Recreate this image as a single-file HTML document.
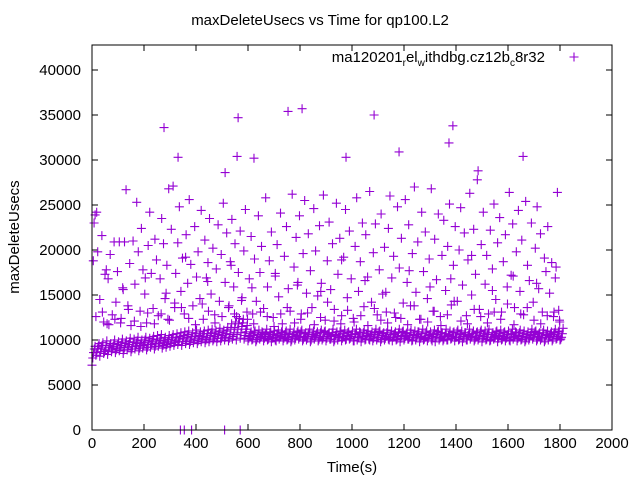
<!DOCTYPE html>
<html><head><meta charset="utf-8"><style>
body{margin:0;background:#fff}
svg{display:block;font-family:"Liberation Sans",Arial,sans-serif}
</style></head><body>
<svg id="chart" width="640" height="480" viewBox="0 0 640 480" xmlns="http://www.w3.org/2000/svg">
<rect width="640" height="480" fill="#fff"/>
<text x="320" y="25" text-anchor="middle" font-size="15">maxDeleteUsecs vs Time for qp100.L2</text>
<text transform="translate(19,237) rotate(-90)" text-anchor="middle" font-size="15">maxDeleteUsecs</text>
<text x="352" y="472" text-anchor="middle" font-size="15">Time(s)</text>
<g id="axes"></g>
<g id="marks" stroke="#9400d3" stroke-width="1.1" fill="none"></g>
<g>
<text x="545" y="62" text-anchor="end" font-size="15">ma120201<tspan font-size="10" dy="4">r</tspan><tspan dy="-4">el</tspan><tspan font-size="10" dy="4">w</tspan><tspan dy="-4">ithdbg.cz12b</tspan><tspan font-size="10" dy="4">c</tspan><tspan dy="-4">8r32</tspan></text>
<path d="M569.5 57h9M574 52.5v9" stroke="#9400d3" stroke-width="1.1"/>
</g>
<rect x="92" y="45" width="520" height="385" fill="none" stroke="#000" stroke-width="1"/>
</svg>
<script>
const xTicks=[0,200,400,600,800,1000,1200,1400,1600,1800,2000];
const yTicks=[0,5000,10000,15000,20000,25000,30000,35000,40000];
const bandTimes=[0,15,30,45,60,75,90,105,120,135,150,165,180,195,210,225,240,255,270,285,300,315,330,345,360,375,390,405,420,435,450,465,480,495,510,525,540,555,570,585,600,615,630,645,660,675,690,705,720,735,750,765,780,795,810,825,840,855,870,885,900,915,930,945,960,975,990,1005,1020,1035,1050,1065,1080,1095,1110,1125,1140,1155,1170,1185,1200,1215,1230,1245,1260,1275,1290,1305,1320,1335,1350,1365,1380,1395,1410,1425,1440,1455,1470,1485,1500,1515,1530,1545,1560,1575,1590,1605,1620,1635,1650,1665,1680,1695,1710,1725,1740,1755,1770,1785,1800];
const bandLow=[7200,8300,8200,8500,8400,8700,8600,8800,8500,8900,8700,9000,8800,9100,8900,9200,9000,9300,9100,9200,9300,9400,9500,9400,9600,9500,9700,9600,9800,9700,9800,9900,9800,9900,10000,9900,10100,10000,10200,10100,9900,10000,9800,10100,9900,10000,9800,10000,10100,9900,10000,9800,10000,10100,9900,10000,9800,10100,9900,10000,9900,10100,9800,10000,9900,10000,10100,9900,10000,9800,10000,10100,9900,10000,9800,10000,10100,9900,10000,9800,10000,10100,9900,10000,9800,10000,9900,10100,9800,10000,9900,10000,10100,9900,10000,9800,10000,10100,9900,10000,9800,10000,9900,10100,9800,10000,9900,10000,10100,9900,10000,9800,10000,10100,9900,10000,9800,10000,9900,10100,10000];
const bandQ1=[8000,8600,8700,8700,8800,9000,8900,9100,8900,9200,9000,9300,9100,9400,9200,9500,9300,9600,9400,9500,9600,9700,9800,9800,9900,9800,10000,9900,10100,10000,10100,10100,10200,10200,10300,10200,10400,10600,10800,10500,10200,10100,10000,10300,10200,10100,10200,9900,10300,10200,10100,10000,10200,10300,10100,10200,10000,10300,10100,10200,10200,10100,10000,10300,10200,10100,10200,9900,10300,10200,10100,10000,10200,10300,10100,10200,10000,10300,10100,10200,10200,10100,10000,10300,10200,10100,10200,9900,10300,10200,10100,10000,10200,10300,10100,10200,10000,10300,10100,10200,10200,10100,10000,10300,10200,10100,10200,9900,10300,10200,10100,10000,10200,10300,10100,10200,10000,10300,10100,10200,10100];
const bandMid=[8600,9000,9100,8900,9200,9300,9100,9400,9200,9500,9300,9600,9400,9700,9500,9800,9600,9900,9700,9800,10000,9900,10100,10200,10300,10100,10400,10200,10400,10300,10500,10400,10600,10500,10700,10600,10800,11200,11500,10900,10400,10500,10300,10400,10600,10400,10300,10500,10400,10600,10300,10400,10500,10400,10300,10600,10400,10500,10300,10400,10600,10400,10500,10300,10400,10500,10400,10600,10300,10400,10500,10400,10600,10300,10500,10400,10300,10600,10400,10500,10400,10300,10500,10600,10400,10300,10500,10400,10600,10300,10400,10500,10400,10300,10600,10400,10500,10400,10300,10500,10400,10600,10300,10400,10500,10400,10300,10600,10400,10500,10400,10300,10500,10600,10400,10300,10500,10400,10600,10400,10300];
const bandQ3=[9000,9300,9400,9400,9400,9600,9500,9700,9600,9800,9700,9900,9700,10000,9900,10100,10000,10200,10000,10100,10300,10300,10400,10500,10600,10400,10700,10500,10700,10700,10800,10700,10900,10800,11000,11200,11400,11800,11900,11200,10700,10800,10600,10900,10700,10800,10600,10700,10900,10800,10700,10600,10800,10900,10700,10800,10600,10700,10800,10900,10700,10800,10600,10900,10700,10800,10600,10700,10900,10800,10700,10600,10800,10900,10700,10800,10600,10700,10800,10900,10700,10800,10600,10900,10700,10800,10600,10700,10900,10800,10700,10600,10800,10900,10700,10800,10600,10700,10800,10900,10700,10800,10600,10900,10700,10800,10600,10700,10900,10800,10700,10600,10800,10900,10700,10800,10600,10700,10800,10900,10700];
const bandHigh=[9300,9600,9700,9900,9600,10000,9800,10100,9900,10200,10100,10300,10000,10300,10200,10400,10500,10600,10300,10500,10600,10700,10800,10900,11000,10800,11100,10900,11000,11100,11200,11000,11300,11100,11400,11800,12000,12400,12300,11600,10900,11000,11100,10800,11200,10900,11000,11100,10800,11000,11200,10900,11000,11100,10800,11200,11000,10900,11100,11000,10800,11200,10900,11000,11100,10900,11000,11200,10800,11100,11000,10900,11200,11000,10800,11100,11000,10900,11200,11000,10800,11100,11000,10900,11200,11000,10900,11100,11000,10800,11200,11000,10900,11100,11000,10800,11200,11000,10900,11100,11000,11200,10800,11000,11100,10900,11000,11200,10800,11100,11000,10900,11200,11000,10800,11100,11000,10900,11200,11000,11300];
const scatterTimes=[5,8,12,18,22,30,38,45,50,58,62,70,78,85,92,98,105,112,118,125,131,138,145,150,158,165,172,178,185,190,196,203,210,216,222,228,235,242,248,255,262,268,275,281,288,295,298,305,312,318,322,330,336,342,348,355,362,368,374,380,388,395,402,408,415,420,428,434,440,446,452,458,465,472,478,485,490,497,505,512,518,525,532,538,545,550,556,563,570,577,584,590,596,605,612,618,625,632,640,646,652,660,668,675,682,690,697,705,712,718,725,732,740,748,755,762,770,777,785,792,798,805,812,818,825,832,840,846,853,860,868,875,882,890,897,905,912,918,925,932,940,946,953,960,968,975,982,990,997,1005,1012,1018,1025,1032,1040,1046,1053,1060,1068,1075,1082,1090,1097,1105,1112,1118,1125,1132,1140,1146,1153,1160,1168,1175,1182,1190,1197,1205,1212,1218,1225,1232,1240,1246,1253,1260,1268,1275,1282,1290,1297,1305,1312,1318,1325,1332,1340,1346,1353,1360,1368,1375,1382,1390,1397,1405,1412,1418,1425,1432,1440,1446,1453,1460,1468,1475,1482,1490,1497,1505,1512,1518,1525,1532,1540,1546,1553,1560,1568,1575,1582,1590,1597,1605,1612,1618,1625,1632,1640,1646,1653,1660,1668,1675,1682,1690,1697,1705,1712,1718,1725,1732,1740,1746,1753,1760,1768,1775,1782,1790,1795,1798,277,331,562,558,623,754,808,977,1085,1181,1373,1388,1658,512,1485,340,355,383,510,570];
const scatterValues=[18800,23000,23900,24200,19800,14500,21600,12000,17300,11800,16800,19500,12800,20900,14200,17600,20900,12400,15800,20900,26700,13800,18500,11600,21000,16200,25300,19800,13200,22400,17800,15100,11900,20500,24200,17400,13500,21200,18900,12700,16800,23500,20700,14600,18300,26800,12200,22300,27100,13600,17400,20800,24800,15400,19100,12900,21700,16300,25600,18400,13800,22600,17000,19800,14600,24400,12300,21100,16900,18600,23500,15100,20200,12800,17900,22800,14300,19500,25200,16400,21900,13600,18700,23400,15900,20700,12600,17500,22100,14700,19900,24500,13100,16800,21500,12900,19000,14300,23800,17500,20400,13500,25800,15900,18800,22000,12500,17100,20600,14800,24100,11800,19300,22600,15700,13200,26200,18100,21400,16400,23800,12900,19600,25500,15200,21800,17700,13600,24600,19900,14900,22700,16300,26100,12200,18800,23100,15600,20700,13400,25200,17300,21300,12700,19200,24500,14700,22100,16800,12400,20400,25800,15400,18700,23000,13700,21700,17000,26500,14200,19700,22900,12800,17800,24000,15100,20300,13100,22400,26000,16900,19300,12500,24800,18000,21300,14100,25600,16400,22800,13800,19600,27000,15300,20900,12300,24200,17600,22000,14600,19000,26800,13200,21200,16700,24000,12600,19400,23300,15500,20400,25100,13900,18300,22600,14300,20000,24700,16100,21900,12700,18900,26300,15000,22300,17300,27800,13400,20600,24200,16200,19400,12900,22200,17900,25100,14500,20800,23600,13100,18700,21700,15900,26400,17200,22900,13600,19800,24400,15400,21100,12800,25400,18300,16600,23000,14200,20200,24800,15700,21800,13100,19100,17600,22600,15200,18600,12600,16900,26400,13300,12200,33600,30300,34700,30400,30200,35400,35700,30300,35000,30900,31900,33800,30400,28600,28800,0,0,0,0,0];
const extraTimes=[15,40,65,88,110,140,163,188,214,240,266,292,318,344,372,398,424,448,473,500,527,548,575,598,622,648,674,700,726,751,779,803,829,855,879,906,931,957,983,1008,1034,1061,1086,1111,1137,1163,1188,1214,1239,1265,1291,1316,1342,1367,1393,1419,1444,1470,1495,1521,1547,1572,1598,1623,1649,1674,1700,1726,1751,1777,1799,55,120,205,285,360,445,535,615,705,790,880,960,1050,1130,1220,1300,1380,1460,1540,1620,1710,1785];
const extraValues=[12600,13100,11700,12300,11900,13400,12100,11500,13000,11800,12900,12300,14100,13600,12400,11700,14000,13200,11900,12600,13800,12900,14400,12300,11800,13100,12600,11500,12900,13600,11900,12300,13000,11700,12500,14200,12100,11800,13300,12000,12700,11600,13500,12200,11900,13000,12400,11700,13800,12300,12000,13200,11600,12800,14300,12100,11800,13400,12600,11900,13100,12300,14000,11700,12900,13600,12200,11800,12700,13100,12000,17800,15600,16900,15200,19200,16500,18300,15800,17400,16100,15400,18900,16600,15300,17700,15900,16800,19400,15500,17100,16300,18100];

const X0=92,X1=612,Y0=430,Y1=45,XMAX=2000,YMAX=(Y0-Y1)/9*1000;
function xs(t){return X0+(t/XMAX)*(X1-X0);}
function ys(v){return Y0-(v/YMAX)*(Y0-Y1);}
const NS="http://www.w3.org/2000/svg";
const axes=document.getElementById('axes');
const marks=document.getElementById('marks');
xTicks.forEach(t=>{
  const x=xs(t);
  const p=document.createElementNS(NS,'path');
  p.setAttribute('d',`M${x} ${Y0}v-6M${x} ${Y1}v6`);
  p.setAttribute('stroke','#000');
  
  
  axes.appendChild(p);
  const tx=document.createElementNS(NS,'text');
  tx.setAttribute('x',x);tx.setAttribute('y',448);
  tx.setAttribute('text-anchor','middle');tx.setAttribute('font-size','15');
  tx.textContent=t;
  
  
  axes.appendChild(tx);
});
yTicks.forEach(v=>{
  const y=ys(v);
  const p=document.createElementNS(NS,'path');
  p.setAttribute('d',`M${X0} ${y}h6M${X1} ${y}h-6`);
  p.setAttribute('stroke','#000');
  
  
  axes.appendChild(p);
  const tx=document.createElementNS(NS,'text');
  tx.setAttribute('x',81);tx.setAttribute('y',y+5);
  tx.setAttribute('text-anchor','end');tx.setAttribute('font-size','15');
  tx.textContent=v;
  
  
  axes.appendChild(tx);
});
function cross(t,v){
  const x=xs(t),y=ys(v);
  const p=document.createElementNS(NS,'path');
  p.setAttribute('d',`M${x-4.5} ${y}h9M${x} ${y-4.5}v9`);
  
  
  marks.appendChild(p);
}
bandTimes.forEach((t,i)=>{
  cross(t,bandLow[i]);
  cross(t+3,bandQ1[i]);
  cross(t+6,bandMid[i]);
  cross(t+9,bandQ3[i]);
  cross(t+12,bandHigh[i]);
});
scatterTimes.forEach((t,i)=>cross(t,scatterValues[i]));
extraTimes.forEach((t,i)=>cross(t,extraValues[i]));
</script>
</body></html>
